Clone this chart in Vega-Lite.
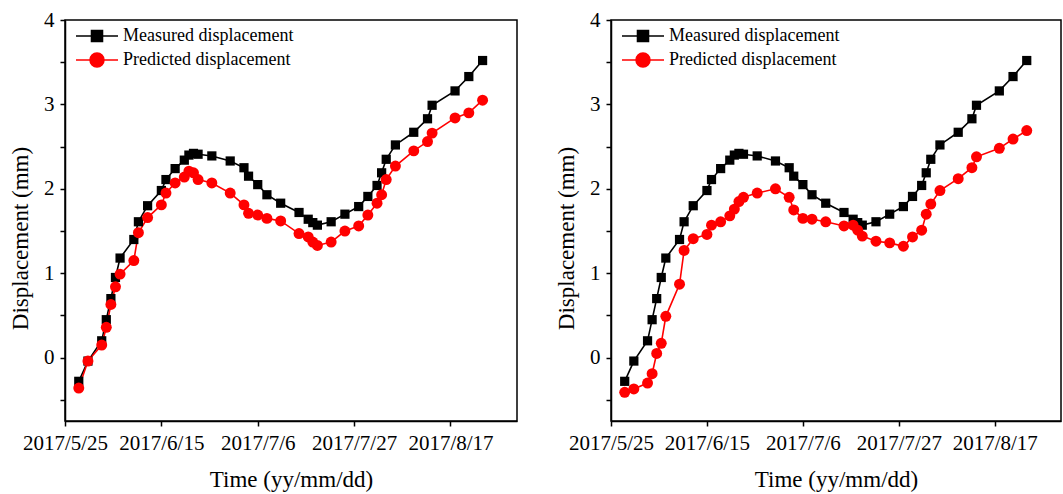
{
  "$schema": "https://vega.github.io/schema/vega-lite/v6.json",
  "autosize": {"type": "pad"},
  "padding": {"left": 8, "top": 8, "right": 0, "bottom": 0},
  "background": "white",
  "config": {
    "view": {"stroke": "black", "strokeWidth": 1.5},
    "axis": {
      "labelFont": "Liberation Serif", "titleFont": "Liberation Serif",
      "labelFontSize": 21, "titleFontSize": 23, "titleFontWeight": "normal",
      "labelColor": "black", "titleColor": "black",
      "domainColor": "black", "tickColor": "black", "grid": false,
      "domainWidth": 1.5, "tickWidth": 1.5, "tickSize": 5,
      "labelFlush": false, "labelOverlap": false
    }
  },
  "datasets": {
    "left": [
      {"date": "2017-05-28", "series": "Measured displacement", "value": -0.28},
      {"date": "2017-05-30", "series": "Measured displacement", "value": -0.04},
      {"date": "2017-06-02", "series": "Measured displacement", "value": 0.20},
      {"date": "2017-06-03", "series": "Measured displacement", "value": 0.45},
      {"date": "2017-06-04", "series": "Measured displacement", "value": 0.70},
      {"date": "2017-06-05", "series": "Measured displacement", "value": 0.95},
      {"date": "2017-06-06", "series": "Measured displacement", "value": 1.18},
      {"date": "2017-06-09", "series": "Measured displacement", "value": 1.40},
      {"date": "2017-06-10", "series": "Measured displacement", "value": 1.61},
      {"date": "2017-06-12", "series": "Measured displacement", "value": 1.80},
      {"date": "2017-06-15", "series": "Measured displacement", "value": 1.98},
      {"date": "2017-06-16", "series": "Measured displacement", "value": 2.11},
      {"date": "2017-06-18", "series": "Measured displacement", "value": 2.24},
      {"date": "2017-06-20", "series": "Measured displacement", "value": 2.34},
      {"date": "2017-06-21", "series": "Measured displacement", "value": 2.40},
      {"date": "2017-06-22", "series": "Measured displacement", "value": 2.42},
      {"date": "2017-06-23", "series": "Measured displacement", "value": 2.41},
      {"date": "2017-06-26", "series": "Measured displacement", "value": 2.39},
      {"date": "2017-06-30", "series": "Measured displacement", "value": 2.33},
      {"date": "2017-07-03", "series": "Measured displacement", "value": 2.25},
      {"date": "2017-07-04", "series": "Measured displacement", "value": 2.15},
      {"date": "2017-07-06", "series": "Measured displacement", "value": 2.05},
      {"date": "2017-07-08", "series": "Measured displacement", "value": 1.93},
      {"date": "2017-07-11", "series": "Measured displacement", "value": 1.83},
      {"date": "2017-07-15", "series": "Measured displacement", "value": 1.72},
      {"date": "2017-07-17", "series": "Measured displacement", "value": 1.64},
      {"date": "2017-07-18", "series": "Measured displacement", "value": 1.60},
      {"date": "2017-07-19", "series": "Measured displacement", "value": 1.57},
      {"date": "2017-07-22", "series": "Measured displacement", "value": 1.61},
      {"date": "2017-07-25", "series": "Measured displacement", "value": 1.70},
      {"date": "2017-07-28", "series": "Measured displacement", "value": 1.79},
      {"date": "2017-07-30", "series": "Measured displacement", "value": 1.91},
      {"date": "2017-08-01", "series": "Measured displacement", "value": 2.04},
      {"date": "2017-08-02", "series": "Measured displacement", "value": 2.19},
      {"date": "2017-08-03", "series": "Measured displacement", "value": 2.35},
      {"date": "2017-08-05", "series": "Measured displacement", "value": 2.52},
      {"date": "2017-08-09", "series": "Measured displacement", "value": 2.67},
      {"date": "2017-08-12", "series": "Measured displacement", "value": 2.83},
      {"date": "2017-08-13", "series": "Measured displacement", "value": 2.99},
      {"date": "2017-08-18", "series": "Measured displacement", "value": 3.16},
      {"date": "2017-08-21", "series": "Measured displacement", "value": 3.33},
      {"date": "2017-08-24", "series": "Measured displacement", "value": 3.52},
      {"date": "2017-05-28", "series": "Predicted displacement", "value": -0.36},
      {"date": "2017-05-30", "series": "Predicted displacement", "value": -0.04},
      {"date": "2017-06-02", "series": "Predicted displacement", "value": 0.15},
      {"date": "2017-06-03", "series": "Predicted displacement", "value": 0.36},
      {"date": "2017-06-04", "series": "Predicted displacement", "value": 0.63},
      {"date": "2017-06-05", "series": "Predicted displacement", "value": 0.84},
      {"date": "2017-06-06", "series": "Predicted displacement", "value": 0.99},
      {"date": "2017-06-09", "series": "Predicted displacement", "value": 1.15},
      {"date": "2017-06-10", "series": "Predicted displacement", "value": 1.48},
      {"date": "2017-06-12", "series": "Predicted displacement", "value": 1.66},
      {"date": "2017-06-15", "series": "Predicted displacement", "value": 1.81},
      {"date": "2017-06-16", "series": "Predicted displacement", "value": 1.95},
      {"date": "2017-06-18", "series": "Predicted displacement", "value": 2.07},
      {"date": "2017-06-20", "series": "Predicted displacement", "value": 2.14},
      {"date": "2017-06-21", "series": "Predicted displacement", "value": 2.21},
      {"date": "2017-06-22", "series": "Predicted displacement", "value": 2.19},
      {"date": "2017-06-23", "series": "Predicted displacement", "value": 2.11},
      {"date": "2017-06-26", "series": "Predicted displacement", "value": 2.07},
      {"date": "2017-06-30", "series": "Predicted displacement", "value": 1.95},
      {"date": "2017-07-03", "series": "Predicted displacement", "value": 1.81},
      {"date": "2017-07-04", "series": "Predicted displacement", "value": 1.71},
      {"date": "2017-07-06", "series": "Predicted displacement", "value": 1.69},
      {"date": "2017-07-08", "series": "Predicted displacement", "value": 1.65},
      {"date": "2017-07-11", "series": "Predicted displacement", "value": 1.62},
      {"date": "2017-07-15", "series": "Predicted displacement", "value": 1.47},
      {"date": "2017-07-17", "series": "Predicted displacement", "value": 1.43},
      {"date": "2017-07-18", "series": "Predicted displacement", "value": 1.37},
      {"date": "2017-07-19", "series": "Predicted displacement", "value": 1.33},
      {"date": "2017-07-22", "series": "Predicted displacement", "value": 1.37},
      {"date": "2017-07-25", "series": "Predicted displacement", "value": 1.50},
      {"date": "2017-07-28", "series": "Predicted displacement", "value": 1.56},
      {"date": "2017-07-30", "series": "Predicted displacement", "value": 1.69},
      {"date": "2017-08-01", "series": "Predicted displacement", "value": 1.83},
      {"date": "2017-08-02", "series": "Predicted displacement", "value": 1.93},
      {"date": "2017-08-03", "series": "Predicted displacement", "value": 2.11},
      {"date": "2017-08-05", "series": "Predicted displacement", "value": 2.27},
      {"date": "2017-08-09", "series": "Predicted displacement", "value": 2.45},
      {"date": "2017-08-12", "series": "Predicted displacement", "value": 2.56},
      {"date": "2017-08-13", "series": "Predicted displacement", "value": 2.66},
      {"date": "2017-08-18", "series": "Predicted displacement", "value": 2.84},
      {"date": "2017-08-21", "series": "Predicted displacement", "value": 2.90},
      {"date": "2017-08-24", "series": "Predicted displacement", "value": 3.05}
    ],
    "right": [
      {"date": "2017-05-28", "series": "Measured displacement", "value": -0.28},
      {"date": "2017-05-30", "series": "Measured displacement", "value": -0.04},
      {"date": "2017-06-02", "series": "Measured displacement", "value": 0.20},
      {"date": "2017-06-03", "series": "Measured displacement", "value": 0.45},
      {"date": "2017-06-04", "series": "Measured displacement", "value": 0.70},
      {"date": "2017-06-05", "series": "Measured displacement", "value": 0.95},
      {"date": "2017-06-06", "series": "Measured displacement", "value": 1.18},
      {"date": "2017-06-09", "series": "Measured displacement", "value": 1.40},
      {"date": "2017-06-10", "series": "Measured displacement", "value": 1.61},
      {"date": "2017-06-12", "series": "Measured displacement", "value": 1.80},
      {"date": "2017-06-15", "series": "Measured displacement", "value": 1.98},
      {"date": "2017-06-16", "series": "Measured displacement", "value": 2.11},
      {"date": "2017-06-18", "series": "Measured displacement", "value": 2.24},
      {"date": "2017-06-20", "series": "Measured displacement", "value": 2.34},
      {"date": "2017-06-21", "series": "Measured displacement", "value": 2.40},
      {"date": "2017-06-22", "series": "Measured displacement", "value": 2.42},
      {"date": "2017-06-23", "series": "Measured displacement", "value": 2.41},
      {"date": "2017-06-26", "series": "Measured displacement", "value": 2.39},
      {"date": "2017-06-30", "series": "Measured displacement", "value": 2.33},
      {"date": "2017-07-03", "series": "Measured displacement", "value": 2.25},
      {"date": "2017-07-04", "series": "Measured displacement", "value": 2.15},
      {"date": "2017-07-06", "series": "Measured displacement", "value": 2.05},
      {"date": "2017-07-08", "series": "Measured displacement", "value": 1.93},
      {"date": "2017-07-11", "series": "Measured displacement", "value": 1.83},
      {"date": "2017-07-15", "series": "Measured displacement", "value": 1.72},
      {"date": "2017-07-17", "series": "Measured displacement", "value": 1.64},
      {"date": "2017-07-18", "series": "Measured displacement", "value": 1.60},
      {"date": "2017-07-19", "series": "Measured displacement", "value": 1.57},
      {"date": "2017-07-22", "series": "Measured displacement", "value": 1.61},
      {"date": "2017-07-25", "series": "Measured displacement", "value": 1.70},
      {"date": "2017-07-28", "series": "Measured displacement", "value": 1.79},
      {"date": "2017-07-30", "series": "Measured displacement", "value": 1.91},
      {"date": "2017-08-01", "series": "Measured displacement", "value": 2.04},
      {"date": "2017-08-02", "series": "Measured displacement", "value": 2.19},
      {"date": "2017-08-03", "series": "Measured displacement", "value": 2.35},
      {"date": "2017-08-05", "series": "Measured displacement", "value": 2.52},
      {"date": "2017-08-09", "series": "Measured displacement", "value": 2.67},
      {"date": "2017-08-12", "series": "Measured displacement", "value": 2.83},
      {"date": "2017-08-13", "series": "Measured displacement", "value": 2.99},
      {"date": "2017-08-18", "series": "Measured displacement", "value": 3.16},
      {"date": "2017-08-21", "series": "Measured displacement", "value": 3.33},
      {"date": "2017-08-24", "series": "Measured displacement", "value": 3.52},
      {"date": "2017-05-28", "series": "Predicted displacement", "value": -0.41},
      {"date": "2017-05-30", "series": "Predicted displacement", "value": -0.37},
      {"date": "2017-06-02", "series": "Predicted displacement", "value": -0.30},
      {"date": "2017-06-03", "series": "Predicted displacement", "value": -0.19},
      {"date": "2017-06-04", "series": "Predicted displacement", "value": 0.05},
      {"date": "2017-06-05", "series": "Predicted displacement", "value": 0.17},
      {"date": "2017-06-06", "series": "Predicted displacement", "value": 0.49},
      {"date": "2017-06-09", "series": "Predicted displacement", "value": 0.87},
      {"date": "2017-06-10", "series": "Predicted displacement", "value": 1.27},
      {"date": "2017-06-12", "series": "Predicted displacement", "value": 1.41},
      {"date": "2017-06-15", "series": "Predicted displacement", "value": 1.46},
      {"date": "2017-06-16", "series": "Predicted displacement", "value": 1.57},
      {"date": "2017-06-18", "series": "Predicted displacement", "value": 1.61},
      {"date": "2017-06-20", "series": "Predicted displacement", "value": 1.68},
      {"date": "2017-06-21", "series": "Predicted displacement", "value": 1.76},
      {"date": "2017-06-22", "series": "Predicted displacement", "value": 1.85},
      {"date": "2017-06-23", "series": "Predicted displacement", "value": 1.90},
      {"date": "2017-06-26", "series": "Predicted displacement", "value": 1.95},
      {"date": "2017-06-30", "series": "Predicted displacement", "value": 2.00},
      {"date": "2017-07-03", "series": "Predicted displacement", "value": 1.90},
      {"date": "2017-07-04", "series": "Predicted displacement", "value": 1.75},
      {"date": "2017-07-06", "series": "Predicted displacement", "value": 1.65},
      {"date": "2017-07-08", "series": "Predicted displacement", "value": 1.64},
      {"date": "2017-07-11", "series": "Predicted displacement", "value": 1.61},
      {"date": "2017-07-15", "series": "Predicted displacement", "value": 1.56},
      {"date": "2017-07-17", "series": "Predicted displacement", "value": 1.57},
      {"date": "2017-07-18", "series": "Predicted displacement", "value": 1.51},
      {"date": "2017-07-19", "series": "Predicted displacement", "value": 1.44},
      {"date": "2017-07-22", "series": "Predicted displacement", "value": 1.38},
      {"date": "2017-07-25", "series": "Predicted displacement", "value": 1.36},
      {"date": "2017-07-28", "series": "Predicted displacement", "value": 1.32},
      {"date": "2017-07-30", "series": "Predicted displacement", "value": 1.43},
      {"date": "2017-08-01", "series": "Predicted displacement", "value": 1.51},
      {"date": "2017-08-02", "series": "Predicted displacement", "value": 1.70},
      {"date": "2017-08-03", "series": "Predicted displacement", "value": 1.82},
      {"date": "2017-08-05", "series": "Predicted displacement", "value": 1.98},
      {"date": "2017-08-09", "series": "Predicted displacement", "value": 2.12},
      {"date": "2017-08-12", "series": "Predicted displacement", "value": 2.25},
      {"date": "2017-08-13", "series": "Predicted displacement", "value": 2.38},
      {"date": "2017-08-18", "series": "Predicted displacement", "value": 2.48},
      {"date": "2017-08-21", "series": "Predicted displacement", "value": 2.59},
      {"date": "2017-08-24", "series": "Predicted displacement", "value": 2.69}
    ]
  },
  "spacing": 36,
  "resolve": {
    "scale": {"x": "independent", "y": "independent", "color": "independent", "shape": "independent", "size": "independent"},
    "legend": {"color": "independent"}
  },
  "hconcat": [
    {
      "width": 452, "height": 401,
      "data": {"name": "left"},
      "encoding": {
        "x": {"field": "date", "type": "temporal", "title": "Time (yy/mm/dd)",
          "scale": {"type": "utc", "domain": [{"year": 2017, "month": 5, "date": 25, "utc": true}, {"year": 2017, "month": 8, "date": 31, "hours": 12, "utc": true}]},
          "axis": {"values": [{"year": 2017, "month": 5, "date": 25, "utc": true}, {"year": 2017, "month": 6, "date": 15, "utc": true}, {"year": 2017, "month": 7, "date": 6, "utc": true}, {"year": 2017, "month": 7, "date": 27, "utc": true}, {"year": 2017, "month": 8, "date": 17, "utc": true}],
            "labelExpr": "utcFormat(datum.value, '%Y/%-m/%-d')", "labelPadding": 6, "titlePadding": 15}},
        "y": {"field": "value", "type": "quantitative", "title": "Displacement (mm)",
          "scale": {"domain": [-0.75, 4], "nice": false, "zero": false},
          "axis": {"values": [-0.5, 0, 0.5, 1, 1.5, 2, 2.5, 3, 3.5, 4], "labelExpr": "datum.value % 1 === 0 ? format(datum.value, 'd') : ''", "labelPadding": 6, "titlePadding": 11, "titleY": 218}},
        "color": {"field": "series", "type": "nominal",
          "scale": {"domain": ["Measured displacement", "Predicted displacement"], "range": ["#000000", "#ff0000"]},
          "legend": {"title": null, "orient": "none", "legendX": 23, "legendY": 7, "symbolSize": 196, "symbolStrokeWidth": 1.5, "symbolOpacity": 1,
            "labelFont": "Liberation Serif", "labelFontSize": 18, "labelColor": "black", "labelOffset": 17, "rowPadding": 5, "labelLimit": 400,
            "encoding": {"symbols": {
              "shape": {"condition": {"test": "datum.value === 'Measured displacement'", "value": "M-3,0H3M-0.79,-0.79H0.79V0.79H-0.79Z"}, "value": "M-3,0H3M-1,0A1,1,0,1,0,1,0A1,1,0,1,0,-1,0Z"},
              "fill": {"condition": {"test": "datum.value === 'Measured displacement'", "value": "#000000"}, "value": "#ff0000"},
              "stroke": {"condition": {"test": "datum.value === 'Measured displacement'", "value": "#000000"}, "value": "#ff0000"},
              "strokeWidth": {"value": 1.5}
            }}}}
      },
      "layer": [
        {"mark": {"type": "line", "strokeWidth": 1.6}},
        {"mark": {"type": "point", "filled": true, "opacity": 1},
          "encoding": {
            "shape": {"field": "series", "type": "nominal", "scale": {"domain": ["Predicted displacement", "Measured displacement"], "range": ["circle", "square"]}, "legend": null},
            "size": {"field": "series", "type": "nominal", "scale": {"domain": ["Predicted displacement", "Measured displacement"], "range": [120, 85]}, "legend": null}
          }}
      ]
    },
    {
      "width": 450, "height": 401,
      "data": {"name": "right"},
      "encoding": {
        "x": {"field": "date", "type": "temporal", "title": "Time (yy/mm/dd)",
          "scale": {"type": "utc", "domain": [{"year": 2017, "month": 5, "date": 25, "utc": true}, {"year": 2017, "month": 8, "date": 31, "hours": 12, "utc": true}]},
          "axis": {"values": [{"year": 2017, "month": 5, "date": 25, "utc": true}, {"year": 2017, "month": 6, "date": 15, "utc": true}, {"year": 2017, "month": 7, "date": 6, "utc": true}, {"year": 2017, "month": 7, "date": 27, "utc": true}, {"year": 2017, "month": 8, "date": 17, "utc": true}],
            "labelExpr": "utcFormat(datum.value, '%Y/%-m/%-d')", "labelPadding": 6, "titlePadding": 15}},
        "y": {"field": "value", "type": "quantitative", "title": "Displacement (mm)",
          "scale": {"domain": [-0.75, 4], "nice": false, "zero": false},
          "axis": {"values": [-0.5, 0, 0.5, 1, 1.5, 2, 2.5, 3, 3.5, 4], "labelExpr": "datum.value % 1 === 0 ? format(datum.value, 'd') : ''", "labelPadding": 6, "titlePadding": 11, "titleY": 218}},
        "color": {"field": "series", "type": "nominal",
          "scale": {"domain": ["Measured displacement", "Predicted displacement"], "range": ["#000000", "#ff0000"]},
          "legend": {"title": null, "orient": "none", "legendX": 23, "legendY": 7, "symbolSize": 196, "symbolStrokeWidth": 1.5, "symbolOpacity": 1,
            "labelFont": "Liberation Serif", "labelFontSize": 18, "labelColor": "black", "labelOffset": 17, "rowPadding": 5, "labelLimit": 400,
            "encoding": {"symbols": {
              "shape": {"condition": {"test": "datum.value === 'Measured displacement'", "value": "M-3,0H3M-0.79,-0.79H0.79V0.79H-0.79Z"}, "value": "M-3,0H3M-1,0A1,1,0,1,0,1,0A1,1,0,1,0,-1,0Z"},
              "fill": {"condition": {"test": "datum.value === 'Measured displacement'", "value": "#000000"}, "value": "#ff0000"},
              "stroke": {"condition": {"test": "datum.value === 'Measured displacement'", "value": "#000000"}, "value": "#ff0000"},
              "strokeWidth": {"value": 1.5}
            }}}}
      },
      "layer": [
        {"mark": {"type": "line", "strokeWidth": 1.6}},
        {"mark": {"type": "point", "filled": true, "opacity": 1},
          "encoding": {
            "shape": {"field": "series", "type": "nominal", "scale": {"domain": ["Predicted displacement", "Measured displacement"], "range": ["circle", "square"]}, "legend": null},
            "size": {"field": "series", "type": "nominal", "scale": {"domain": ["Predicted displacement", "Measured displacement"], "range": [120, 85]}, "legend": null}
          }}
      ]
    }
  ]
}
